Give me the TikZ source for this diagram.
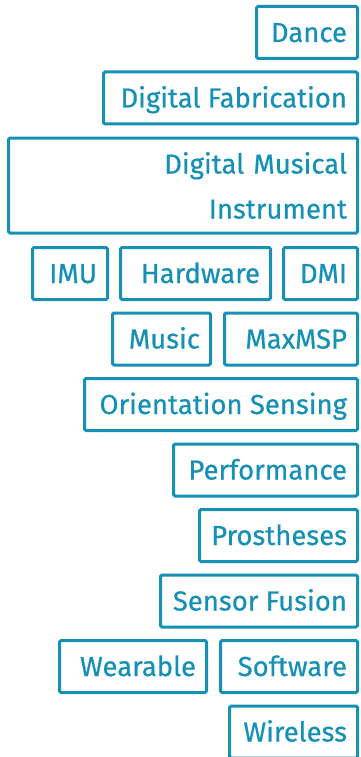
\documentclass[tikz,border=0pt]{standalone}
\usepackage{fontspec}
\newfontfamily\tagfont{Fira Sans}[FakeBold=0.6]
\definecolor{tagblue}{RGB}{22,144,180}
\newcommand\tagtext[2]{\makebox[#1][r]{#2}}
\begin{document}
\begin{tikzpicture}[x=1pt,y=-1pt,
  tagbase/.style={draw=tagblue, text=tagblue, line width=3pt, rounded corners=1.5pt,
    inner xsep=10.5pt, inner ysep=0pt, anchor=north east,
    font=\tagfont\fontsize{27.5}{45}\selectfont},
  tag/.style={tagbase, minimum height=52pt, text height=19pt, text depth=0pt}]
\useasboundingbox (0,0) rectangle (360,757);
\clip (0,0) rectangle (360,757);
% row 1
\node[tag] (dance) at (359,5) {\tagtext{80pt}{Dance}};
% row 2
\node[tag] (digfab) at (359,70.5) {\tagtext{233pt}{Digital Fabrication}};
% row 3
\node[tagbase, align=right, minimum height=95pt, text width=328pt] (dmibig) at (359,136.5) {Digital Musical\\Instrument};
% row 4
\node[tag] (dmi) at (359,246) {\tagtext{53pt}{DMI}};
\node[tag] (hardware) at (272,246) {\tagtext{129pt}{Hardware}};
\node[tag] (imu) at (109,246) {\tagtext{54pt}{IMU}};
% row 5
\node[tag] (maxmsp) at (359,311.5) {\tagtext{112pt}{MaxMSP}};
\node[tag] (music) at (212,311.5) {\tagtext{77pt}{Music}};
% row 6
\node[tag] (orient) at (359,377) {\tagtext{252pt}{Orientation Sensing}};
% row 7
\node[tag] (perf) at (359,442.5) {\tagtext{163pt}{Performance}};
% row 8
\node[tag] (prost) at (359,508) {\tagtext{137pt}{Prostheses}};
% row 9
\node[tag] (fusion) at (359,573.5) {\tagtext{176pt}{Sensor Fusion}};
% row 10
\node[tag] (software) at (359,639) {\tagtext{116pt}{Software}};
\node[tag] (wearable) at (208,639) {\tagtext{126pt}{Wearable}};
% row 11
\node[tag] (wireless) at (359,704.5) {\tagtext{107pt}{Wireless}};
\end{tikzpicture}
\end{document}
